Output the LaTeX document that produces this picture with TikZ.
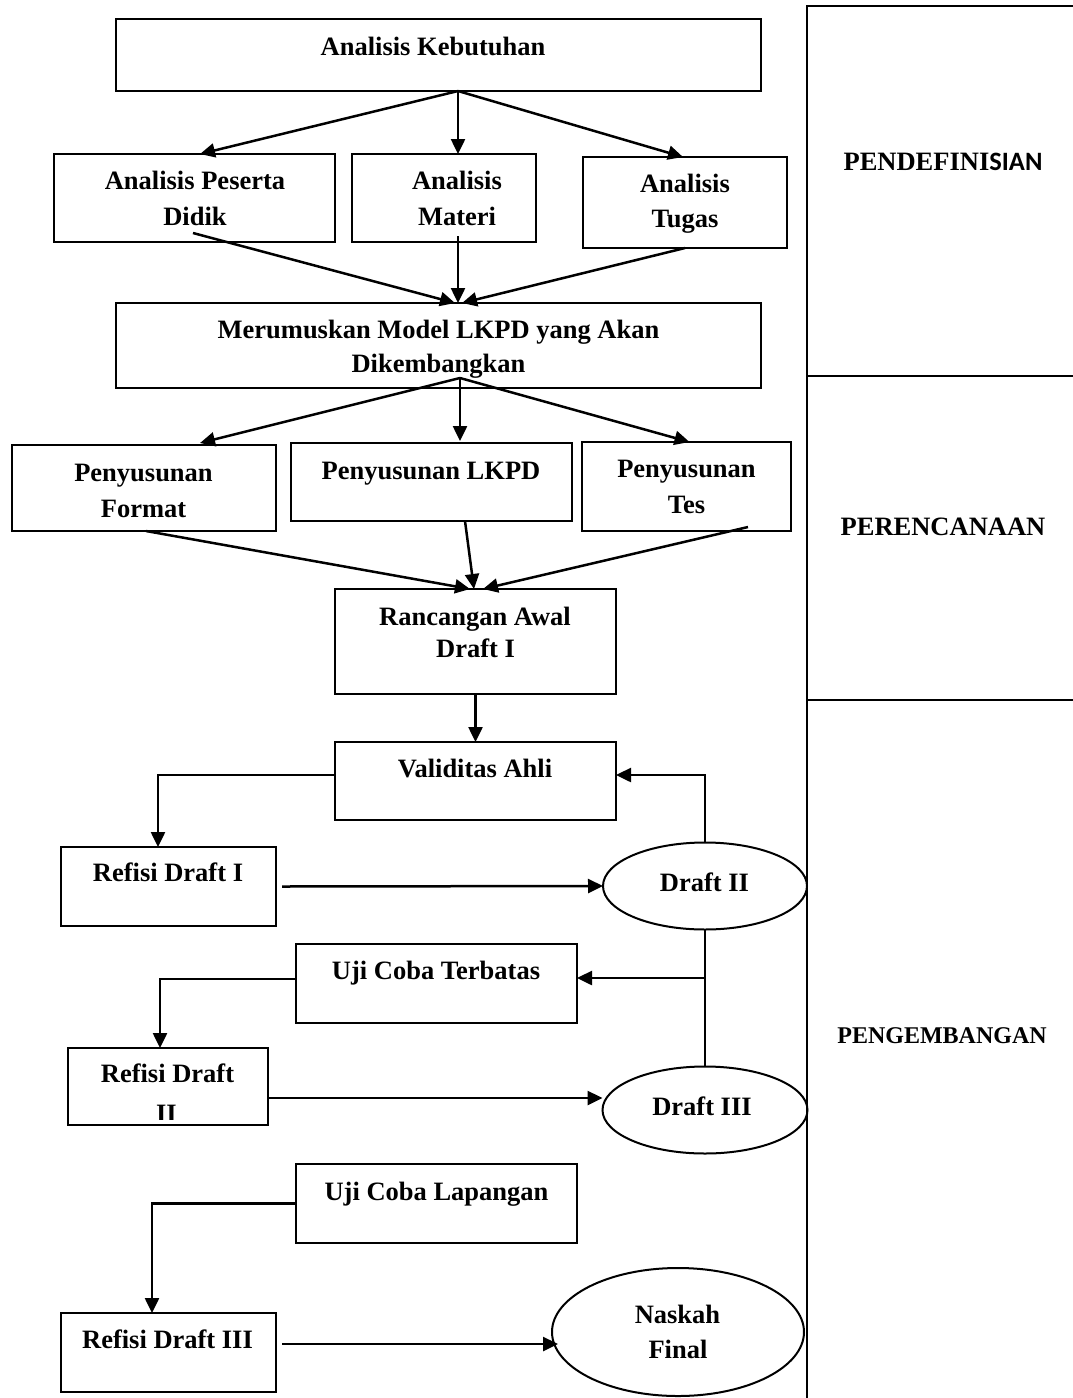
\documentclass[tikz,border=0pt]{standalone}
\usepackage{fontspec}
\setmainfont{Liberation Serif}
\newfontfamily\carl{Carlito}
\usetikzlibrary{arrows.meta,shapes.geometric,calc}
\begin{document}
\begin{tikzpicture}[x=1pt,y=-1pt,
  box/.style={draw, line width=2pt, anchor=north west, inner sep=0pt, outer sep=0pt},
  oval/.style={draw, ellipse, line width=2pt, inner sep=0pt, outer sep=0pt},
  txt/.style={font=\bfseries\fontsize{26.5}{32}\selectfont, anchor=base, inner sep=0pt},
  arr/.style={line width=2.5pt, -{Triangle[length=15pt,width=14pt]}},
  ln/.style={line width=2pt},
  col/.style={line width=2pt}]
\useasboundingbox (0,0) rectangle (1073,1398);

% boxes
\node[box, minimum width=645pt, minimum height=72pt] (keb) at (116,19) {};
\node[box, minimum width=281pt, minimum height=88pt] (pes) at (54,154) {};
\node[box, minimum width=184pt, minimum height=88pt] (mat) at (352,154) {};
\node[box, minimum width=204pt, minimum height=91pt] (tug) at (583,157) {};
\node[box, minimum width=645pt, minimum height=85pt] (mer) at (116,303) {};
\node[box, minimum width=264pt, minimum height=86pt] (for) at (12,445) {};
\node[box, minimum width=281pt, minimum height=78pt] (lkpd) at (291,443) {};
\node[box, minimum width=209pt, minimum height=89pt] (tes) at (582,442) {};
\node[box, minimum width=281pt, minimum height=105pt] (ran) at (335,589) {};
\node[box, minimum width=281pt, minimum height=78pt] (val) at (335,742) {};
\node[box, minimum width=215pt, minimum height=79pt] (ref1) at (61,847) {};
\node[oval, minimum width=204pt, minimum height=87pt] (d2) at (705,886) {};
\node[box, minimum width=281pt, minimum height=79pt] (uct) at (296,944) {};
\node[box, minimum width=200pt, minimum height=77pt] (ref2) at (68,1048) {};
\node[oval, minimum width=205pt, minimum height=87pt] (d3) at (705,1110) {};
\node[box, minimum width=281pt, minimum height=79pt] (ucl) at (296,1164) {};
\node[box, minimum width=215pt, minimum height=79pt] (ref3) at (61,1313) {};
\node[oval, minimum width=252pt, minimum height=128pt] (nf) at (678,1332) {};

% texts
\node[txt] (t-keb) at (433,55) {Analisis Kebutuhan};
\node[txt] (t-pes1) at (195,189) {Analisis Peserta};
\node[txt] (t-pes2) at (195,225) {Didik};
\node[txt] (t-mat1) at (457,189) {Analisis};
\node[txt] (t-mat2) at (457,225) {Materi};
\node[txt] (t-tug1) at (685,192) {Analisis};
\node[txt] (t-tug2) at (685,227) {Tugas};
\node[txt] (t-mer1) at (438.5,338) {Merumuskan Model LKPD yang Akan};
\node[txt] (t-mer2) at (438.5,372) {Dikembangkan};
\node[txt] (t-for1) at (143.5,481) {Penyusunan};
\node[txt] (t-for2) at (143.5,517) {Format};
\node[txt] (t-lkpd) at (431,479) {Penyusunan LKPD};
\node[txt] (t-tes1) at (686.5,477) {Penyusunan};
\node[txt] (t-tes2) at (686.5,513) {Tes};
\node[txt] (t-ran1) at (475,625) {Rancangan Awal};
\node[txt] (t-ran2) at (475.5,657) {Draft I};
\node[txt] (t-val) at (475,777) {Validitas Ahli};
\node[txt] (t-ref1) at (168,881) {Refisi Draft I};
\node[txt] (t-d2) at (704.5,891) {Draft II};
\node[txt] (t-uct) at (436,979) {Uji Coba Terbatas};
\node[txt] (t-ref2a) at (167.5,1082) {Refisi Draft};
\begin{scope}
  \clip (140,1098) rectangle (200,1119);
  \node[txt] (t-ref2b) at (166.5,1122) {II};
\end{scope}
\node[txt] (t-d3) at (702,1115) {Draft III};
\node[txt] (t-ucl) at (436.5,1200) {Uji Coba Lapangan};
\node[txt] (t-ref3) at (167.5,1348) {Refisi Draft III};
\node[txt] (t-nf1) at (677.5,1323) {Naskah};
\node[txt] (t-nf2) at (678,1358) {Final};

% right column
\draw[col] (1073,6) -- (807,6) -- (807,1398);
\draw[col] (807,376) -- (1073,376);
\draw[col] (807,700) -- (1073,700);
\node[txt] (pend) at (943,170) {PENDEFINI{\carl SIAN}};
\node[txt] (pere) at (943,535) {PERENCANAAN};
\node[txt, font=\bfseries\fontsize{24}{30}\selectfont] (peng) at (942,1043) {PENGEMBANGAN};

% connectors
\draw[arr] ([xshift=19.5pt]keb.south) -- ([xshift=5.5pt]pes.north);
\draw[arr] ([xshift=19.5pt]keb.south) -- ([xshift=14pt]mat.north);
\draw[arr] ([xshift=19.5pt]keb.south) -- ([xshift=-2pt]tug.north);

\draw[arr] ([xshift=-1.5pt,yshift=9pt]pes.south) -- ([xshift=16.5pt]mer.north);
\draw[arr] ([xshift=14pt,yshift=6pt]mat.south) -- ([xshift=19.5pt]mer.north);
\draw[arr] (tug.south) -- ([xshift=23.5pt]mer.north);

\draw[arr] ([xshift=21.5pt,yshift=10pt]mer.south) -- ([xshift=56pt,yshift=2pt]for.north);
\draw[arr] ([xshift=21.5pt,yshift=10pt]mer.south) -- ([xshift=28.5pt,yshift=2pt]lkpd.north);
\draw[arr] ([xshift=21.5pt,yshift=10pt]mer.south) -- ([xshift=3pt]tes.north);

\draw[arr] ([xshift=2pt]for.south) -- ([xshift=-5.5pt]ran.north);
\draw[arr] ([xshift=33.5pt]lkpd.south) -- ([xshift=-1.5pt]ran.north);
\draw[arr] ([xshift=61.5pt,yshift=4pt]tes.south) -- ([xshift=7.5pt]ran.north);

\draw[arr] (ran.south) -- (val.north);

\draw[arr] ([yshift=6pt]val.west) -| ([xshift=-10.5pt]ref1.north);
\draw[arr] ([xshift=6pt]ref1.east) -- (d2.west);
\draw[arr] (d2.north) |- ([yshift=6pt]val.east);

\draw[ln] (d2.south) -- (d3.north);
\coordinate (br) at ($(d2.south)!0.354!(d3.north)$);
\draw[arr] (br) -- (br -| uct.east);
\draw[arr] ([yshift=4.5pt]uct.west) -| ([xshift=-8pt]ref2.north);
\draw[arr] ([yshift=-11.5pt]ref2.east) -- ([yshift=-11.5pt]ref2.east -| d3.west);

\draw[arr] (ucl.west) -| ([xshift=-16.5pt]ref3.north);
\draw[arr] ([xshift=6pt,yshift=8.5pt]ref3.east) -- ([xshift=6pt,yshift=8.5pt]ref3.east -| nf.west);
\end{tikzpicture}
\end{document}
